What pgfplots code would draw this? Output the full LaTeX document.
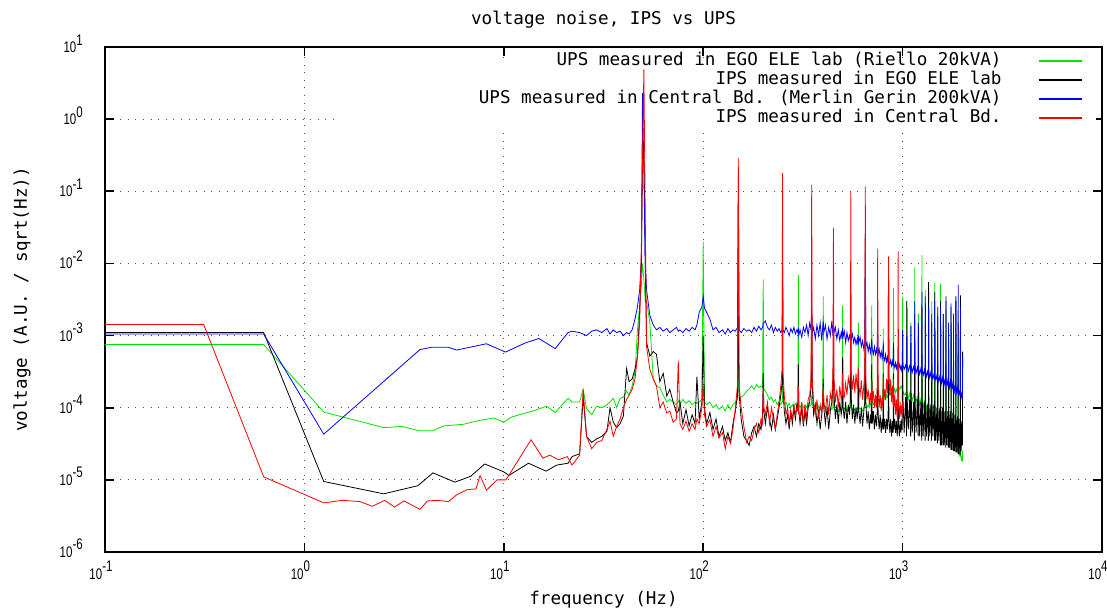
\documentclass[border=0pt]{standalone}
\usepackage{fontspec}
\setmainfont{DejaVu Sans Mono}
\newfontfamily\tickfont[FakeStretch=0.75]{Liberation Sans}
\usepackage{pgfplots}
\usepackage{pgfplotstable}
\pgfplotsset{compat=1.18}
\definecolor{gpgreen}{rgb}{0,0.9,0}
\newcommand\tl[1]{10\raisebox{5.6pt}{#1}}
\newcommand\ticksize{\tickfont\fontsize{11.5pt}{12pt}\selectfont}
\newcommand\mainsize{\fontsize{13.2pt}{15pt}\selectfont}

\pgfplotstableread{
f g k b r
22 1.2e-4 2.1e-5 1.15e-3 1.6e-5
24 1.2e-4 2.3e-5 1.1e-3 2.2e-5
25 1.8e-4 1.4e-4 1.05e-3 1.8e-4
26 9.7e-5 4.0e-5 1.0e-3 4.0e-5
27.6 8.0e-5 3.3e-5 1.15e-3 2.7e-5
29.2 1.05e-4 3.7e-5 1.2e-3 3.3e-5
31 1.0e-4 4.0e-5 1.1e-3 3.5e-5
32.9 1.1e-4 4.7e-5 1.25e-3 5.0e-5
34.1 1.2e-4 1.0e-4 1.05e-3 6.5e-5
35.4 1.35e-4 6.3e-5 1.2e-3 4.0e-5
36.8 1.0e-4 5.3e-5 1.1e-3 5.5e-5
38.3 1.35e-4 6.0e-5 1.15e-3 7.0e-5
39.8 1.4e-4 7.7e-5 1.0e-3 1.0e-4
41.3 1.7e-4 3.5e-4 1.1e-3 1.3e-4
42.5 1.5e-4 2.3e-4 1.05e-3 1.5e-4
44 2.0e-4 2.5e-4 1.2e-3 1.8e-4
45.5 3.1e-4 3.4e-4 1.7e-3 2.5e-4
46.8 1.2e-3 5.0e-4 2.5e-3 5.2e-4
48 2.6e-3 2.1e-3 4.3e-3 1.5e-3
49 5.0e-3 1.0e-2 1.2e-2 2.0e-2
49.6 1.0e-2 0.3 2.3 0.26
50.4 6.0e-3 0.5 0.19 4.9
51.2 3.0e-3 1.0e-2 1.1e-2 5.0e-2
52 3.0e-3 8.0e-4 4.3e-3 7.0e-4
54 1.5e-3 5.2e-4 1.9e-3 3.4e-4
56.2 2.5e-4 6.0e-4 1.4e-3 2.5e-4
58.3 2.0e-4 5.5e-4 1.2e-3 2.0e-4
60.6 1.9e-4 2.3e-4 1.3e-3 1.0e-4
63 1.5e-4 3.0e-4 1.15e-3 1.2e-4
65.7 1.2e-4 1.45e-4 1.25e-3 8.4e-5
68 1.3e-4 1.8e-4 1.1e-3 9.0e-5
70.7 1.2e-4 1.2e-4 1.2e-3 6.3e-5
73.5 1.1e-4 8.4e-5 1.3e-3 7.0e-5
75 1.25e-4 9.0e-5 1.15e-3 4.5e-4
76.5 1.1e-4 1.2e-4 1.2e-3 6.0e-5
79 1.3e-4 6.0e-5 1.1e-3 5.0e-5
82 1.15e-4 9.4e-5 1.25e-3 6.5e-5
85 1.25e-4 5.6e-5 1.15e-3 4.7e-5
88 1.1e-4 8.0e-5 1.3e-3 6.0e-5
91 1.2e-4 6.0e-5 1.2e-3 5.0e-5
93 1.15e-4 2.7e-4 1.4e-3 7.0e-5
95.5 1.2e-4 7.0e-5 2.1e-3 6.0e-5
98.5 1.3e-4 1.2e-4 2.5e-3 1.0e-4
100 2.0e-2 1.0e-3 3.5e-3 2.0e-4
101.5 1.2e-4 1.0e-4 2.4e-3 8.0e-5
104 1.1e-4 6.0e-5 2.1e-3 5.5e-5
108 1.2e-4 8.6e-5 1.7e-3 6.8e-5
112 1.0e-4 5.0e-5 1.2e-3 4.0e-5
116 1.1e-4 7.0e-5 1.3e-3 5.5e-5
120 9.5e-5 4.0e-5 1.1e-3 3.8e-5
125 1.05e-4 5.5e-5 1.2e-3 4.5e-5
129 9.0e-5 3.5e-5 1.05e-3 2.7e-5
133 1.1e-4 4.5e-5 1.25e-3 4.0e-5
137 9.5e-5 3.3e-5 1.1e-3 3.2e-5
141 1.1e-4 6.0e-5 1.2e-3 5.0e-5
145 1.2e-4 9.0e-5 1.15e-3 1.0e-4
148.5 1.3e-4 1.5e-4 1.3e-3 2.0e-4
150 5.0e-4 2.0e-3 0.16 0.29
151.5 1.3e-4 1.5e-4 1.2e-3 2.0e-4
155 1.4e-4 7.0e-5 1.1e-3 1.0e-4
160 1.5e-4 4.0e-5 1.25e-3 5.5e-5
165 1.7e-4 3.5e-5 1.15e-3 3.3e-5
170 1.8e-4 3.0e-5 1.2e-3 4.0e-5
175 2.0e-4 4.5e-5 1.1e-3 3.5e-5
180 1.8e-4 5.5e-5 1.3e-3 5.0e-5
185 2.1e-4 4.0e-5 1.15e-3 6.0e-5
190 1.9e-4 6.0e-5 1.35e-3 4.5e-5
195 2.0e-4 5.0e-5 1.2e-3 7.0e-5
198.5 1.9e-4 8.0e-5 1.3e-3 6.0e-5
200 6.0e-3 3.0e-4 1.5e-3 2.0e-4
201.5 1.8e-4 9.0e-5 1.5e-3 1.0e-4
205 1.7e-4 6.0e-5 1.6e-3 8.0e-5
210 1.5e-4 1.0e-4 1.3e-3 1.2e-4
215 1.3e-4 7.0e-5 1.2e-3 6.0e-5
220 1.4e-4 5.0e-5 1.4e-3 1.0e-4
225 1.2e-4 8.0e-5 1.1e-3 7.0e-5
230 1.3e-4 5.0e-5 1.3e-3 5.0e-5
235 1.1e-4 7.0e-5 1.15e-3 8.0e-5
240 1.2e-4 1.0e-4 1.25e-3 1.2e-4
245 1.1e-4 1.5e-4 1.1e-3 2.0e-4
248.5 1.2e-4 2.2e-4 1.2e-3 3.4e-4
250 2.0e-4 3.7e-4 1.1e-2 0.18
251.5 1.2e-4 2.0e-4 1.2e-3 3.0e-4
255 1.1e-4 9.0e-5 1.1e-3 1.5e-4
260 1.2e-4 6.0e-5 1.3e-3 8.0e-5
265 1.05e-4 8.0e-5 1.15e-3 1.0e-4
270 1.15e-4 5.0e-5 1.0e-3 6.0e-5
275 1.0e-4 9.0e-5 1.25e-3 9.0e-5
280 1.1e-4 6.0e-5 1.1e-3 7.0e-5
285 1.0e-4 1.0e-4 1.3e-3 1.1e-4
290 1.15e-4 7.0e-5 1.05e-3 8.0e-5
295 1.05e-4 1.1e-4 1.2e-3 1.0e-4
298.5 1.1e-4 9.0e-5 1.1e-3 9.0e-5
300 7.0e-3 4.0e-4 1.3e-3 2.0e-4
301.5 1.1e-4 9.0e-5 1.0e-3 9.0e-5
306 1.0e-4 6.0e-5 1.2e-3 7.0e-5
312 1.15e-4 1.0e-4 9.5e-4 1.2e-4
318 1.0e-4 5.5e-5 1.3e-3 6.0e-5
324 1.1e-4 9.0e-5 1.1e-3 1.1e-4
330 1.0e-4 6.0e-5 1.4e-3 7.0e-5
336 1.15e-4 1.0e-4 1.0e-3 1.3e-4
342 1.05e-4 1.2e-4 1.5e-3 1.5e-4
347.5 1.1e-4 2.0e-4 1.2e-3 2.5e-4
350 1.5e-4 3.9e-3 2.5e-3 0.124
352.5 1.1e-4 2.0e-4 1.1e-3 2.5e-4
358 1.0e-4 8.0e-5 1.3e-3 1.2e-4
365 1.1e-4 1.1e-4 9.0e-4 8.0e-5
372 9.5e-5 6.0e-5 1.4e-3 1.3e-4
379 1.05e-4 9.0e-5 1.0e-3 7.0e-5
386 9.5e-5 5.0e-5 1.5e-3 1.1e-4
393 1.0e-4 8.0e-5 8.5e-4 8.0e-5
397.5 1.1e-4 1.2e-4 1.3e-3 1.4e-4
400 3.5e-3 2.5e-4 1.6e-3 2.0e-4
402.5 1.1e-4 1.0e-4 1.1e-3 1.2e-4
410 9.5e-5 6.0e-5 1.4e-3 9.0e-5
418 1.05e-4 1.0e-4 9.0e-4 1.5e-4
426 9.0e-5 5.0e-5 1.3e-3 8.0e-5
434 1.0e-4 9.0e-5 1.0e-3 1.6e-4
442 9.5e-5 1.2e-4 1.6e-3 1.2e-4
447 1.0e-4 2.0e-4 1.0e-3 3.0e-4
450 2.5e-4 6.0e-4 1.4e-3 3.1e-2
453 1.0e-4 1.5e-4 1.1e-3 2.5e-4
460 9.0e-5 7.0e-5 1.3e-3 1.2e-4
468 1.0e-4 1.1e-4 9.0e-4 1.8e-4
476 9.0e-5 6.0e-5 1.2e-3 1.0e-4
484 1.0e-4 1.2e-4 8.5e-4 2.0e-4
492 9.5e-5 8.0e-5 1.1e-3 1.3e-4
497 1.0e-4 1.0e-4 9.0e-4 1.5e-4
500 2.6e-3 5.0e-4 1.3e-3 3.0e-4
503 1.0e-4 1.0e-4 9.5e-4 1.5e-4
510 9.5e-5 7.0e-5 1.15e-3 1.4e-4
518 1.05e-4 1.2e-4 8.0e-4 2.2e-4
526 9.0e-5 6.0e-5 1.1e-3 1.5e-4
534 1.0e-4 1.1e-4 8.5e-4 2.6e-4
542 9.5e-5 8.0e-5 1.0e-3 2.0e-4
547 1.05e-4 1.4e-4 8.5e-4 3.0e-4
550 3.0e-4 1.0e-3 1.2e-3 0.1
553 1.0e-4 1.3e-4 9.0e-4 3.0e-4
560 9.5e-5 7.0e-5 1.05e-3 1.8e-4
568 1.0e-4 1.1e-4 8.0e-4 2.8e-4
576 9.0e-5 6.0e-5 9.5e-4 1.6e-4
584 1.0e-4 1.0e-4 7.5e-4 3.0e-4
592 9.5e-5 7.0e-5 9.0e-4 1.8e-4
597 1.0e-4 1.0e-4 7.5e-4 2.5e-4
600 1.5e-3 3.0e-4 1.0e-3 3.5e-4
603 1.0e-4 9.0e-5 8.0e-4 2.0e-4
612 9.5e-5 6.0e-5 9.5e-4 1.5e-4
621 1.0e-4 1.0e-4 7.0e-4 2.4e-4
630 9.0e-5 5.5e-5 8.5e-4 1.3e-4
639 1.0e-4 9.0e-5 6.5e-4 2.0e-4
646 1.1e-4 1.2e-4 8.0e-4 3.0e-4
650 3.0e-4 2.65e-2 1.4e-2 0.117
654 1.1e-4 1.2e-4 7.0e-4 2.5e-4
663 1.0e-4 6.0e-5 8.0e-4 1.3e-4
672 1.1e-4 9.0e-5 6.0e-4 1.8e-4
681 1.0e-4 5.0e-5 7.5e-4 1.1e-4
690 1.1e-4 8.0e-5 5.8e-4 1.6e-4
696 1.2e-4 6.0e-5 7.0e-4 1.1e-4
700 2.6e-3 4.0e-4 9.0e-4 2.5e-4
704 1.2e-4 6.0e-5 6.5e-4 1.2e-4
713 1.1e-4 9.0e-5 5.5e-4 1.7e-4
722 1.2e-4 5.0e-5 7.0e-4 1.0e-4
731 1.1e-4 8.0e-5 5.5e-4 1.5e-4
740 1.25e-4 5.5e-5 6.5e-4 1.0e-4
746 1.2e-4 9.0e-5 5.5e-4 2.0e-4
750 3.0e-4 6.0e-4 1.5e-3 1.6e-2
754 1.2e-4 8.0e-5 5.5e-4 2.0e-4
763 1.3e-4 5.0e-5 6.5e-4 1.0e-4
772 1.2e-4 8.0e-5 5.0e-4 1.5e-4
781 1.3e-4 4.5e-5 6.0e-4 9.0e-5
790 1.2e-4 7.0e-5 4.8e-4 1.4e-4
796 1.3e-4 5.0e-5 5.5e-4 1.0e-4
800 1.25e-3 3.0e-4 8.0e-4 3.0e-4
804 1.3e-4 5.0e-5 5.0e-4 1.2e-4
813 1.4e-4 7.0e-5 4.5e-4 1.8e-4
822 1.3e-4 4.5e-5 5.5e-4 1.3e-4
831 1.5e-4 7.0e-5 4.3e-4 2.5e-4
840 1.4e-4 5.0e-5 5.0e-4 1.6e-4
846 1.5e-4 8.0e-5 4.2e-4 3.0e-4
850 1.2e-2 4.0e-4 9.6e-3 1.25e-2
854 1.5e-4 7.0e-5 4.5e-4 2.8e-4
863 1.6e-4 4.5e-5 4.0e-4 1.5e-4
872 1.5e-4 7.0e-5 4.6e-4 2.5e-4
881 1.7e-4 4.0e-5 3.8e-4 1.2e-4
890 1.6e-4 6.5e-5 4.4e-4 2.0e-4
896 1.7e-4 4.5e-5 3.8e-4 1.1e-4
900 4.6e-3 3.0e-4 8.0e-4 2.5e-4
904 1.7e-4 5.0e-5 4.0e-4 1.0e-4
913 1.8e-4 7.0e-5 3.6e-4 1.5e-4
922 1.6e-4 4.5e-5 4.2e-4 8.0e-5
931 1.8e-4 6.5e-5 3.5e-4 1.3e-4
940 1.7e-4 4.0e-5 4.0e-4 7.0e-5
946 1.8e-4 6.0e-5 3.5e-4 1.2e-4
950 2.0e-4 4.0e-4 7.0e-4 1.47e-2
954 1.8e-4 6.0e-5 3.6e-4 1.1e-4
963 1.9e-4 4.0e-5 4.0e-4 7.0e-5
972 1.8e-4 6.5e-5 3.4e-4 1.2e-4
981 2.0e-4 4.5e-5 3.8e-4 7.5e-5
990 1.9e-4 7.0e-5 3.3e-4 1.1e-4
996 2.0e-4 5.0e-5 3.6e-4 8.0e-5
1000 3.4e-3 1.0e-3 1.2e-3 1.2e-4
1003 1.7e-4 1.5e-4 4.0e-4 nan
1018 1.5e-4 4.5e-5 3.4e-4 nan
1035 1.6e-4 1.4e-4 3.9e-4 nan
1047 1.4e-4 4.0e-5 3.3e-4 nan
1050 3.0e-3 3.0e-3 1.0e-3 nan
1053 1.7e-4 1.5e-4 4.0e-4 nan
1068 1.3e-4 5.0e-5 3.2e-4 nan
1085 1.6e-4 1.3e-4 3.8e-4 nan
1097 1.35e-4 4.0e-5 3.3e-4 nan
1100 1.5e-3 8.0e-4 1.35e-3 nan
1103 1.6e-4 1.6e-4 3.9e-4 nan
1118 1.25e-4 4.5e-5 3.1e-4 nan
1135 1.5e-4 1.2e-4 3.7e-4 nan
1147 1.3e-4 3.5e-5 3.2e-4 nan
1150 8.8e-3 2.0e-3 3.0e-3 nan
1153 1.5e-4 1.6e-4 3.8e-4 nan
1168 1.2e-4 4.5e-5 3.0e-4 nan
1185 1.4e-4 1.3e-4 3.6e-4 nan
1197 1.2e-4 4.0e-5 3.0e-4 nan
1200 2.0e-3 1.0e-3 1.5e-3 nan
1203 1.4e-4 1.5e-4 3.6e-4 nan
1218 1.1e-4 4.0e-5 2.9e-4 nan
1235 1.3e-4 1.2e-4 3.5e-4 nan
1247 1.1e-4 3.5e-5 2.9e-4 nan
1250 1.3e-2 2.5e-3 4.0e-3 nan
1253 1.3e-4 1.5e-4 3.5e-4 nan
1268 1.0e-4 4.0e-5 2.8e-4 nan
1285 1.2e-4 1.2e-4 3.3e-4 nan
1297 1.0e-4 3.5e-5 2.8e-4 nan
1300 4.3e-3 1.5e-3 3.5e-3 nan
1303 1.15e-4 1.4e-4 3.3e-4 nan
1318 9.5e-5 4.0e-5 2.7e-4 nan
1335 1.1e-4 1.1e-4 3.2e-4 nan
1347 9.0e-5 3.5e-5 2.7e-4 nan
1350 2.5e-3 5.5e-3 2.5e-3 nan
1353 1.05e-4 1.5e-4 3.2e-4 nan
1368 8.5e-5 4.0e-5 2.6e-4 nan
1385 1.0e-4 1.1e-4 3.1e-4 nan
1397 8.0e-5 3.5e-5 2.6e-4 nan
1400 3.0e-3 1.5e-3 2.0e-3 nan
1403 9.5e-5 1.3e-4 3.0e-4 nan
1418 7.5e-5 4.0e-5 2.5e-4 nan
1435 9.0e-5 1.1e-4 2.9e-4 nan
1447 7.0e-5 3.5e-5 2.5e-4 nan
1450 5.4e-3 4.0e-3 3.0e-3 nan
1453 8.5e-5 1.3e-4 2.9e-4 nan
1468 6.5e-5 3.5e-5 2.4e-4 nan
1485 8.0e-5 1.0e-4 2.8e-4 nan
1497 6.2e-5 3.2e-5 2.4e-4 nan
1500 2.0e-3 2.5e-3 1.8e-3 nan
1503 7.5e-5 1.2e-4 2.8e-4 nan
1518 5.8e-5 3.5e-5 2.3e-4 nan
1535 7.0e-5 1.0e-4 2.7e-4 nan
1547 5.5e-5 3.0e-5 2.3e-4 nan
1550 5.2e-3 3.0e-3 2.5e-3 nan
1553 6.5e-5 1.1e-4 2.7e-4 nan
1568 5.2e-5 3.0e-5 2.2e-4 nan
1585 6.0e-5 1.0e-4 2.6e-4 nan
1597 5.0e-5 3.0e-5 2.2e-4 nan
1600 1.5e-3 2.0e-3 2.0e-3 nan
1603 5.8e-5 1.1e-4 2.6e-4 nan
1618 4.6e-5 3.0e-5 2.1e-4 nan
1635 5.5e-5 9.0e-5 2.5e-4 nan
1647 4.4e-5 2.8e-5 2.1e-4 nan
1650 2.3e-3 3.5e-3 3.0e-3 nan
1653 5.2e-5 1.0e-4 2.5e-4 nan
1668 4.2e-5 3.0e-5 2.0e-4 nan
1685 4.8e-5 9.0e-5 2.4e-4 nan
1697 4.0e-5 2.8e-5 2.0e-4 nan
1700 1.2e-3 1.5e-3 1.5e-3 nan
1703 4.6e-5 1.0e-4 2.4e-4 nan
1718 3.8e-5 2.8e-5 1.9e-4 nan
1735 4.3e-5 9.0e-5 2.3e-4 nan
1747 3.6e-5 2.6e-5 1.9e-4 nan
1750 1.4e-3 2.5e-3 2.8e-3 nan
1753 4.1e-5 9.0e-5 2.3e-4 nan
1768 3.4e-5 2.6e-5 1.8e-4 nan
1785 3.8e-5 8.5e-5 2.2e-4 nan
1797 3.2e-5 2.5e-5 1.8e-4 nan
1800 8.0e-4 2.0e-3 2.0e-3 nan
1803 3.6e-5 8.5e-5 2.2e-4 nan
1818 3.0e-5 2.5e-5 1.7e-4 nan
1835 3.3e-5 8.0e-5 2.0e-4 nan
1847 2.8e-5 2.4e-5 1.7e-4 nan
1850 1.0e-3 3.0e-3 3.5e-3 nan
1853 3.1e-5 8.0e-5 2.0e-4 nan
1868 2.6e-5 2.4e-5 1.6e-4 nan
1885 2.9e-5 7.5e-5 1.9e-4 nan
1897 2.4e-5 2.3e-5 1.6e-4 nan
1900 6.0e-4 1.5e-3 5.1e-3 nan
1903 2.7e-5 7.5e-5 1.9e-4 nan
1918 2.2e-5 2.3e-5 1.5e-4 nan
1935 2.5e-5 7.0e-5 1.7e-4 nan
1947 2.1e-5 2.2e-5 1.5e-4 nan
1950 8.0e-4 3.6e-3 2.5e-3 nan
1953 2.3e-5 7.0e-5 1.7e-4 nan
1968 1.9e-5 2.5e-5 1.4e-4 nan
1985 2.1e-5 6.5e-5 1.6e-4 nan
1997 1.8e-5 3.0e-5 1.3e-4 nan
2000 2.5e-5 6.0e-4 5.0e-4 nan
}\hightab

\begin{document}
\begin{tikzpicture}
\begin{axis}[
  set layers,
  at={(0,0)}, anchor=south west,
  scale only axis, width=747.75pt, height=378.75pt,
  xmode=log, ymode=log, log basis x=10, log basis y=10,
  xmin=0.1, xmax=10000, ymin=1e-6, ymax=10,
  xtick={0.1,1,10,100,1000,10000},
  xticklabels={\tl{-1},\tl{0},\tl{1},\tl{2},\tl{3},\tl{4}},
  ytick={1e-6,1e-5,1e-4,1e-3,1e-2,1e-1,1,10},
  yticklabels={\tl{-6},\tl{-5},\tl{-4},\tl{-3},\tl{-2},\tl{-1},\tl{0},\tl{1}},
  xminorticks=false, yminorticks=false,
  tick align=inside, major tick length=7pt,
  tick style={black, line width=1.2pt},
  axis line style={line width=1.3pt},
  grid=major,
  major grid style={black!70, line width=0.7pt, dash pattern=on 0.7pt off 5pt},
  xticklabel style={font=\ticksize, inner sep=0pt, anchor=base, yshift=-20.5pt, xshift=-3pt},
  yticklabel style={font=\ticksize, inner sep=0pt, anchor=base east, xshift=-16.5pt, yshift=-4.1pt},
  title={voltage noise, IPS vs UPS},
  title style={font=\mainsize, at={(axis description cs:0.5,1.0376)}, anchor=center, inner sep=0pt},
  xlabel={frequency (Hz)},
  xlabel style={font=\mainsize, at={(axis description cs:0.5,-0.09505)}, anchor=center, inner sep=0pt},
  ylabel={voltage (A.U. / sqrt(Hz))},
  ylabel style={font=\mainsize, at={(axis description cs:-0.08325,0.5)}, anchor=center, inner sep=0pt},
  no markers,
  every axis plot/.append style={line width=0.6pt},
  legend style={at={(axis description cs:0.98094,0.99116)}, anchor=north east,
    draw=none, fill=none, inner sep=0pt, row sep=0pt, column sep=0pt, font=\mainsize,
    nodes={inner sep=0pt, text height=10pt, text depth=4.25pt}},
  legend cell align=right,
  legend plot pos=right,
  legend image code/.code={\path (0pt,0pt); \draw[#1, line width=1.1pt] (27.5pt,0pt) -- (60pt,0pt);},
]
\begin{pgfonlayer}{pre main}
\fill[white] (rel axis cs:0.2307,0.8356) rectangle (rel axis cs:0.994,0.978);
\end{pgfonlayer}

\addplot[gpgreen, forget plot] coordinates {(0.1,7.5e-4) (0.625,7.5e-4) (1.25,8.7e-5) (2.5,5.3e-5) (3.1,5.5e-5) (3.75,4.8e-5) (4.4,4.8e-5) (5.0,5.6e-5) (6.3,5.9e-5) (7.6,6.7e-5) (8.9,7.2e-5) (10.0,6.3e-5) (10.9,7.4e-5) (12.0,8.0e-5) (14.0,9.0e-5) (16.4,1.05e-4) (18.1,8.6e-5) (21.0,1.35e-4) (22,1.2e-4)};
\addplot[gpgreen] table[x=f, y=g] {\hightab};
\addlegendentry{UPS measured in EGO ELE lab (Riello 20kVA)}

\addplot[black, forget plot] coordinates {(0.1,1.1e-3) (0.625,1.1e-3) (1.25,9.5e-6) (2.5,6.4e-6) (3.71,8.3e-6) (4.41,1.25e-5) (5.69,9.3e-6) (6.82,1.12e-5) (8.02,1.66e-5) (10.0,1.29e-5) (10.6,1.15e-5) (13.3,1.7e-5) (16.3,1.32e-5) (18.4,1.6e-5) (21.0,1.7e-5) (22,2.1e-5)};
\addplot[black] table[x=f, y=k] {\hightab};
\addlegendentry{IPS measured in EGO ELE lab}

\addplot[blue, forget plot] coordinates {(0.1,1.05e-3) (0.625,1.05e-3) (1.25,4.3e-5) (3.8,6.4e-4) (4.36,6.9e-4) (5.25,6.9e-4) (5.8,6.3e-4) (8.18,7.7e-4) (10.2,5.9e-4) (12.8,7.9e-4) (15.0,9.1e-4) (18.1,6.6e-4) (21.0,1.1e-3) (22,1.15e-3)};
\addplot[blue] table[x=f, y=b] {\hightab};
\addlegendentry{UPS measured in Central Bd. (Merlin Gerin 200kVA)}

\addplot[red, forget plot] coordinates {(0.1,1.42e-3) (0.3125,1.42e-3) (0.625,1.1e-5) (1.25,4.8e-6) (1.55,5.2e-6) (1.9,5.0e-6) (2.19,4.3e-6) (2.53,5.2e-6) (2.83,4.2e-6) (3.16,5.1e-6) (3.8,3.9e-6) (4.14,5.1e-6) (4.64,5.2e-6) (5.28,5.0e-6) (5.8,6.2e-6) (6.54,7.3e-6) (7.26,7.5e-6) (7.6,1.15e-5) (8.19,7.2e-6) (9.25,1.0e-5) (10.24,1.0e-5) (10.6,1.15e-5) (11.5,1.66e-5) (13.7,3.6e-5) (15.7,2.0e-5) (17.0,2.2e-5) (18.8,1.9e-5) (20.8,2.1e-5) (22,1.6e-5)};
\addplot[red] table[x=f, y=r] {\hightab};
\addlegendentry{IPS measured in Central Bd.}
\end{axis}
\pgfresetboundingbox
\useasboundingbox (-78.75pt,-45.75pt) rectangle (751.5pt,414pt);
\end{tikzpicture}
\end{document}
